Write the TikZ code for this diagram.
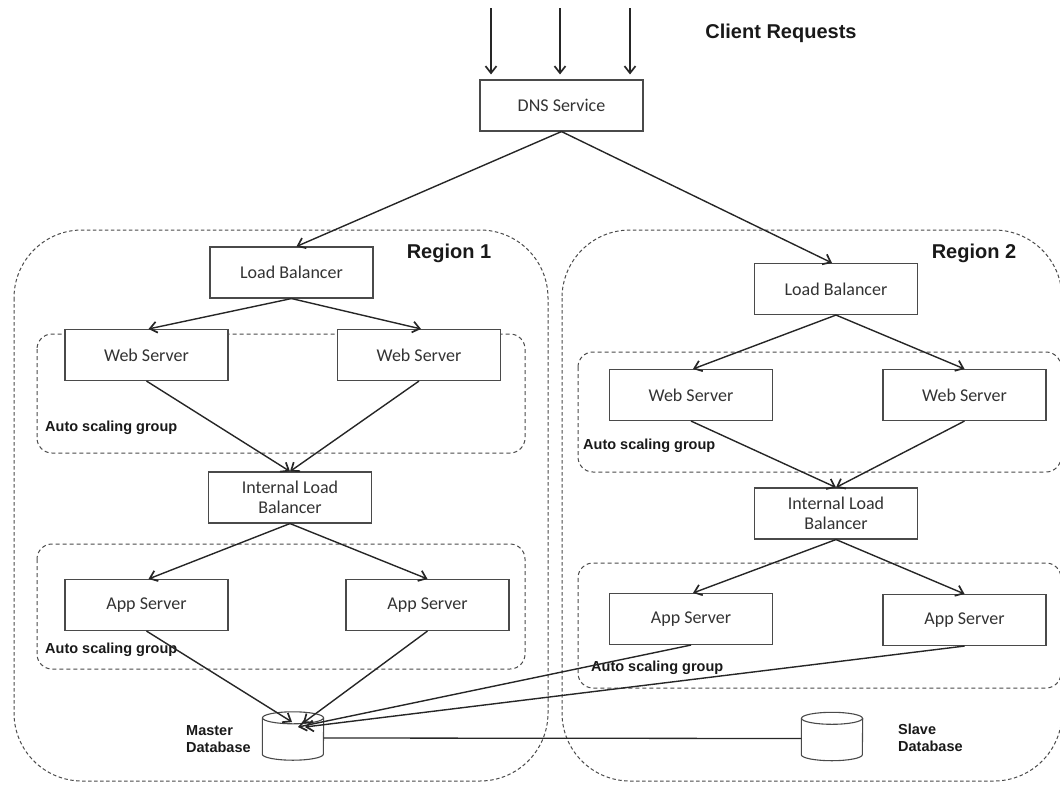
\documentclass[tikz,border=0pt]{standalone}
\usepackage{fontspec}
\usetikzlibrary{arrows.meta}
\newfontfamily\boxfont{Carlito}
\newfontfamily\labfont{Liberation Sans}
\definecolor{boxline}{HTML}{4A4A4A}
\definecolor{boxtext}{HTML}{333333}
\definecolor{dashline}{HTML}{4A4A4A}
\begin{document}
\begin{tikzpicture}[x=1pt,y=-1pt,
  svcbox/.style={draw=boxline, line width=1.1pt, fill=white, minimum width=163pt, minimum height=51pt,
    inner sep=0pt, align=center, font=\boxfont\fontsize{18}{20}\selectfont, text=boxtext},
  dbbox/.style={minimum width=61pt, minimum height=48pt, inner sep=0pt},
  arr/.style={line width=1.4pt, draw=black!85, -{Straight Barb[length=7pt,width=11pt,line width=1.7pt]}},
  link/.style={line width=1.3pt, draw=black!85},
  region/.style={draw=dashline, line width=1pt, dash pattern=on 3.5pt off 2.5pt, rounded corners=68pt},
  group/.style={draw=dashline, line width=1pt, dash pattern=on 4pt off 3pt, rounded corners=15pt},
  biglabel/.style={font=\labfont\bfseries\fontsize{20}{24}\selectfont, text=black!90},
  smalllabel/.style={font=\labfont\bfseries\fontsize{14.5}{17}\selectfont, text=black!90, align=left, inner sep=0pt}]
\useasboundingbox (0,0) rectangle (1060,787);

% regions and auto scaling groups
\draw[region] (14,230) rectangle (548,781);
\draw[region] (562,230) rectangle (1062,781);
\draw[group] (37,334) rectangle (525,453);
\draw[group] (37,544) rectangle (525,669);
\draw[group] (578,352) rectangle (1061,472);
\draw[group] (578,563) rectangle (1061,688);

% services
\node[svcbox] (dns) at (561.5,105.5) {DNS Service};
\node[svcbox] (lb1) at (291.5,272.5) {Load Balancer};
\node[svcbox] (ws1l) at (146.5,355) {Web Server};
\node[svcbox] (ws1r) at (419,355) {Web Server};
\node[svcbox] (ilb1) at (290,497.5) {Internal Load\\Balancer};
\node[svcbox] (as1l) at (146.5,605) {App Server};
\node[svcbox] (as1r) at (427.5,605) {App Server};

\node[svcbox] (lb2) at (836,289) {Load Balancer};
\node[svcbox] (ws2l) at (691,395) {Web Server};
\node[svcbox] (ws2r) at (964.5,395) {Web Server};
\node[svcbox] (ilb2) at (836,513.5) {Internal Load\\Balancer};
\node[svcbox] (as2l) at (691,619) {App Server};
\node[svcbox] (as2r) at (964.5,620) {App Server};

% databases
\node[dbbox] (mdb) at (293,736) {};
\node[dbbox] (sdb) at (832,736.5) {};
\foreach \db in {mdb,sdb}{
  \draw[boxline, line width=1.1pt, fill=white]
    ([yshift=-6pt]\db.north west) -- ([yshift=6pt]\db.south west)
    arc[start angle=180, end angle=360, x radius=30.5pt, y radius=6pt]
    -- ([yshift=-6pt]\db.north east);
  \draw[boxline, line width=1.1pt] ([yshift=-6pt]\db.north) ellipse[x radius=30.5pt, y radius=6pt];
}

% labels
\node[biglabel] (client) at (781,33) {Client Requests};
\node[biglabel] (r1) at (449,253) {Region 1};
\node[biglabel] (r2) at (974,253) {Region 2};
\node[smalllabel, anchor=west] (asg1) at (45,428) {Auto scaling group};
\node[smalllabel, anchor=west] (asg2) at (45,650) {Auto scaling group};
\node[smalllabel, anchor=west] (asg3) at (583,446) {Auto scaling group};
\node[smalllabel, anchor=west] (asg4) at (591,668) {Auto scaling group};
\node[smalllabel, anchor=west] (mlab) at (186,739) {Master\\Database};
\node[smalllabel, anchor=west] (slab) at (898,738) {Slave\\Database};

% incoming client requests
\coordinate (c1) at (491,8);
\coordinate (c2) at (560,8);
\coordinate (c3) at (630,8);
\foreach \c in {c1,c2,c3}
  \draw[arr, shorten >=5pt] (\c) -- (\c |- dns.north);

% DNS to regions
\draw[arr] (dns.south) -- ([xshift=5pt]lb1.north);
\draw[arr] (dns.south) -- ([xshift=-4pt]lb2.north);

% region 1 flow
\draw[arr] (lb1.south) -- ([xshift=2pt]ws1l.north);
\draw[arr] (lb1.south) -- ([xshift=2pt]ws1r.north);
\draw[arr] (ws1l.south) -- (ilb1.north);
\draw[arr] (ws1r.south) -- (ilb1.north);
\draw[arr] (ilb1.south) -- ([xshift=2pt]as1l.north);
\draw[arr] (ilb1.south) -- (as1r.north);

% region 2 flow
\draw[arr] (lb2.south) -- ([xshift=2pt]ws2l.north);
\draw[arr] (lb2.south) -- (ws2r.north);
\draw[arr] (ws2l.south) -- (ilb2.north);
\draw[arr] (ws2r.south) -- (ilb2.north);
\draw[arr] (ilb2.south) -- ([xshift=2pt]as2l.north);
\draw[arr] (ilb2.south) -- (as2r.north);

% app servers to master database
\coordinate (m1) at (292,722);
\coordinate (m2) at (303,723);
\coordinate (m3) at (298,727);
\coordinate (m4) at (305,727);
\draw[arr] (as1l.south) -- (m1);
\draw[arr] (as1r.south) -- (m2);
\draw[arr] (as2l.south) -- (m3);
\draw[arr] (as2r.south) -- (m4);

% replication link
\draw[link] ([yshift=-2pt]mdb.east) -- ([yshift=-2pt]sdb.west);
\end{tikzpicture}
\end{document}
